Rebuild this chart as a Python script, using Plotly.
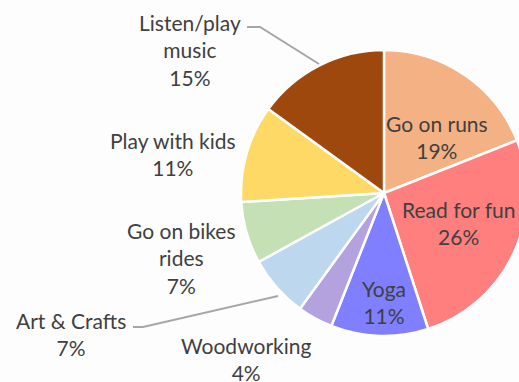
import plotly.graph_objects as go

categories = ["Go on runs", "Read for fun", "Yoga", "Woodworking", "Art & Crafts",
              "Go on bikes rides", "Play with kids", "Listen/play music"]
values = [19, 26, 11, 4, 7, 7, 11, 15]
colors = ["#F4B183", "#FF7F7F", "#7F7FFF", "#B4A2DF", "#BDD7EE",
          "#C5E0B4", "#FFD966", "#9E480E"]
label_texts = ["Go on runs<br>19%", "Read for fun<br>26%", "Yoga<br>11%",
               "Woodworking<br>4%", "Art & Crafts<br>7%", "Go on bikes<br>rides<br>7%",
               "Play with kids<br>11%", "Listen/play<br>music<br>15%"]
# label block centres in pixels (x, y from top)
label_pos = [(437, 137), (458, 223), (384, 302), (246, 359), (71, 334),
             (181, 258), (173, 154), (190, 50)]

W, H = 540, 382
cx, cy, r = 384, 193, 143

def px(x):
    return x / W

def py(y):
    return 1 - y / H

fig = go.Figure(go.Pie(
    labels=categories, values=values, sort=False, direction="clockwise",
    rotation=0, textinfo="none", hoverinfo="label+percent",
    marker=dict(colors=colors, line=dict(color="white", width=2.5)),
    domain=dict(x=[px(cx - r), px(cx + r)], y=[py(cy + r), py(cy - r)]),
    showlegend=False,
))

for t, (x, y) in zip(label_texts, label_pos):
    fig.add_annotation(text=t, x=px(x), y=py(y), xref="paper", yref="paper",
                       xanchor="center", yanchor="middle", showarrow=False,
                       font=dict(family="Lato", size=21, color="#404040"))

leaders = [
    [(247, 27), (260, 27), (319, 64)],
    [(133, 327), (143, 327), (278, 296)],
]
for pts in leaders:
    path = "M " + " L ".join(f"{px(x)},{py(y)}" for x, y in pts)
    fig.add_shape(type="path", path=path, xref="paper", yref="paper",
                  line=dict(color="#A6A6A6", width=2))

fig.update_layout(width=W, height=H, margin=dict(l=0, r=0, t=0, b=0),
                  paper_bgcolor="#FDFDFE", plot_bgcolor="#FDFDFE")

fig.write_html("out.html", post_script="document.body.style.overflow='hidden';document.body.style.margin='0';")
